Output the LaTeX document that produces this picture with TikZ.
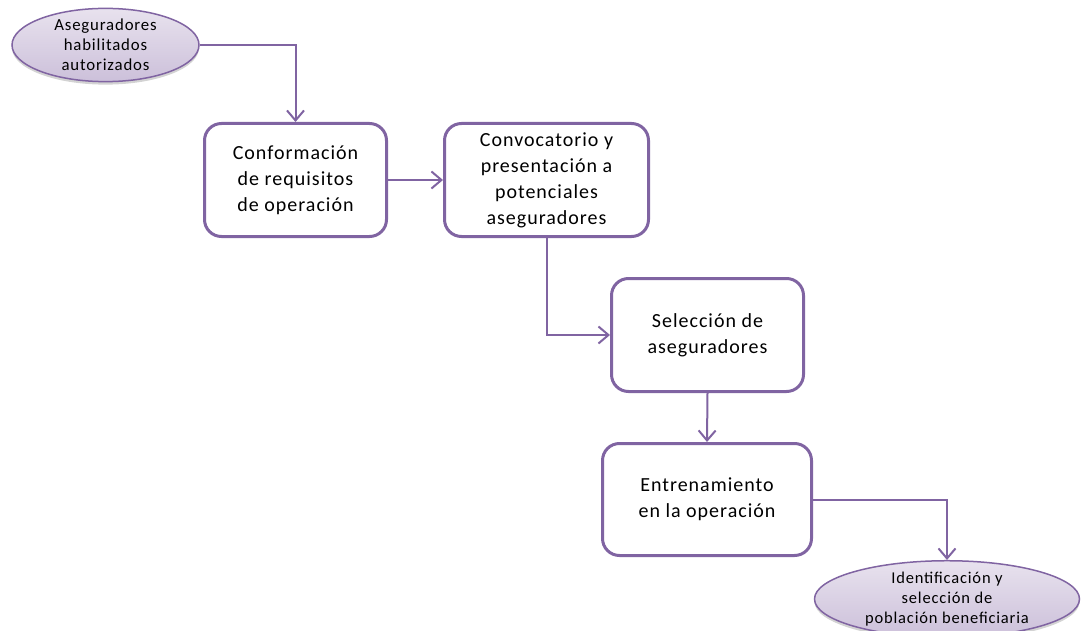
\documentclass[tikz,border=0pt]{standalone}
\usepackage{fontspec}
\setmainfont[LetterSpace=5]{Carlito}
\usepackage{tikz}
\usetikzlibrary{shapes.geometric,shadows,arrows.meta}
\definecolor{mypurple}{RGB}{128,100,162}
\definecolor{mylilac}{RGB}{232,226,238}
\definecolor{mylilacdark}{RGB}{204,192,218}

\tikzset{
  stepbox/.style={draw=mypurple,line width=3pt,rounded corners=17pt,fill=white,
    align=center,font=\fontsize{20}{26}\selectfont,inner sep=0pt},
  endpoint/.style={ellipse,draw=mypurple,line width=1.5pt,top color=mylilac,bottom color=mylilacdark,
    align=center,font=\fontsize{16.8}{20}\selectfont,inner sep=0pt,
    drop shadow={shadow xshift=0pt,shadow yshift=-3pt,opacity=0.35}},
  flow/.style={draw=mypurple,line width=2pt,-{Straight Barb[length=10pt,width=17pt]}}
}

\begin{document}
\begin{tikzpicture}[x=1pt,y=-1pt]
            \useasboundingbox (0,0) rectangle (1081,631);
            \clip (0,0) rectangle (1081,631);
            \node[endpoint,minimum width=187pt,minimum height=60pt] (aseg) at (105.5,45) {Aseguradores\\habilitados\\autorizados};
            \node[stepbox,minimum width=182pt,minimum height=113pt] (conf) at (295.5,180) {Conformación\\de requisitos\\de operación};
            \node[stepbox,minimum width=204pt,minimum height=113pt] (conv) at (546.5,180) {Convocatorio y\\presentación a\\potenciales\\aseguradores};
            \node[stepbox,minimum width=192pt,minimum height=113pt] (sel) at (707.5,335) {Selección de\\aseguradores};
            \node[stepbox,minimum width=209pt,minimum height=112pt] (entr) at (707,499.5) {Entrenamiento\\en la operación};
            \node[endpoint,minimum width=265pt,minimum height=72pt,font=\fontsize{16.5}{20}\selectfont] (ident) at (947,599) {Identificación y\\selección de\\población beneficiaria};
            % connectors
            \draw[flow] (aseg.east) -| (conf.north);
            \draw[flow] (conf.east) -- (conv.west);
            \draw[flow] (conv.south) |- (sel.west);
            \draw[flow] (sel.south) -- (entr.north);
            \draw[flow] (entr.east) -| (ident.north);
        \end{tikzpicture}
\end{document}
